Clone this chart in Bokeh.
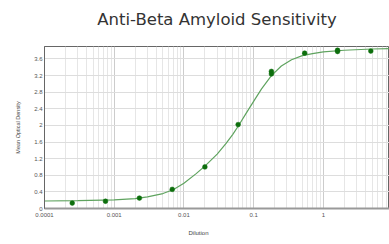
from bokeh.plotting import figure
from bokeh.models import Range1d, FixedTicker, CustomJSTickFormatter, Title, LinearAxis
from bokeh.embed import file_html
from bokeh.resources import INLINE

# Measured points (dilution, mean optical density)
dil = [0.00025, 0.00075, 0.0023, 0.0068, 0.02, 0.06, 0.18, 0.18, 0.54, 1.6, 1.6, 4.8]
od = [0.13, 0.175, 0.25, 0.46, 1.0, 2.02, 3.30, 3.24, 3.74, 3.81, 3.78, 3.79]

# Fitted curve
curve_x = [1e-4, 3e-4, 1e-3, 2e-3, 3e-3, 5e-3, 7e-3, 0.01, 0.015, 0.02, 0.03, 0.04,
           0.05, 0.06, 0.08, 0.1, 0.13, 0.18, 0.25, 0.35, 0.5, 0.7, 1, 2, 5, 10]
curve_y = [0.18, 0.19, 0.21, 0.24, 0.28, 0.36, 0.45, 0.61, 0.84, 1.02, 1.31, 1.56,
           1.78, 1.98, 2.32, 2.58, 2.88, 3.20, 3.43, 3.58, 3.68, 3.73, 3.77, 3.81, 3.84, 3.85]

x_ticks = [0.0001, 0.001, 0.01, 0.1, 1, 10]
y_ticks = [0, 0.4, 0.8, 1.2, 1.6, 2.0, 2.4, 2.8, 3.2, 3.6]

p = figure(width=389, height=244, x_axis_type="log",
           x_range=Range1d(1e-4, 8.9), y_range=Range1d(0, 3.9),
           output_backend="svg", toolbar_location=None,
           min_border_left=44, min_border_right=0, min_border_top=46, min_border_bottom=36)

minor = []
for d in [1e-4, 1e-3, 1e-2, 1e-1, 1]:
    for k in range(2, 10):
        minor.append(d * k)

xax = p.below[0]
yax = p.left[0]

xax.ticker = FixedTicker(ticks=x_ticks, minor_ticks=minor)
yax.ticker = FixedTicker(ticks=y_ticks)
xax.formatter = CustomJSTickFormatter(code="return tick.toString();")
yax.formatter = CustomJSTickFormatter(code="return (Math.round(tick*10)/10).toString();")

for ax in (xax, yax):
    ax.major_tick_out = 0
    ax.major_tick_in = 0
    ax.minor_tick_out = 0
    ax.minor_tick_in = 0
    ax.major_label_text_font = "Liberation Sans"
    ax.major_label_text_font_size = "6px"
    ax.major_label_text_color = "#555555"

yax.major_label_standoff = 2
xax.major_label_standoff = 4
yax.axis_line_color = "#666666"
xax.axis_line_color = "#999999"
xax.axis_line_width = 2

yax.axis_label = "Mean Optical Density"
yax.axis_label_text_font = "Liberation Sans"
yax.axis_label_text_font_size = "5.5px"
yax.axis_label_text_font_style = "normal"
yax.axis_label_text_color = "#444444"
yax.axis_label_standoff = 10

p.outline_line_color = "#666666"
p.outline_line_width = 1

p.xgrid.ticker = xax.ticker
p.xgrid.grid_line_color = "#cccccc"
p.xgrid.minor_grid_line_color = "#e6e6e6"
p.ygrid.grid_line_color = "#dddddd"

# Title drawn as the label of an empty top axis
top_ax = LinearAxis(ticker=FixedTicker(ticks=[]), axis_line_color=None,
                    major_tick_out=0, major_tick_in=0, minor_tick_out=0, minor_tick_in=0,
                    major_label_standoff=0,
                    axis_label="Anti-Beta Amyloid Sensitivity",
                    axis_label_standoff=18,
                    axis_label_text_font="DejaVu Sans",
                    axis_label_text_font_size="16.5px",
                    axis_label_text_font_style="normal",
                    axis_label_text_color="#333333")
p.add_layout(top_ax, "above")

p.line(curve_x, curve_y, line_color="#5fa35f", line_width=1.2)
p.scatter(dil, od, size=4.8, fill_color="#0d6e0d", line_color="#0d6e0d", line_width=0.5)

xt = Title(text="Dilution", align="left", offset=144, standoff=17,
           text_font="Liberation Sans", text_font_size="6px",
           text_font_style="normal", text_color="#444444")
p.add_layout(xt, "below")

open("out.html", "w").write(file_html(p, INLINE))
